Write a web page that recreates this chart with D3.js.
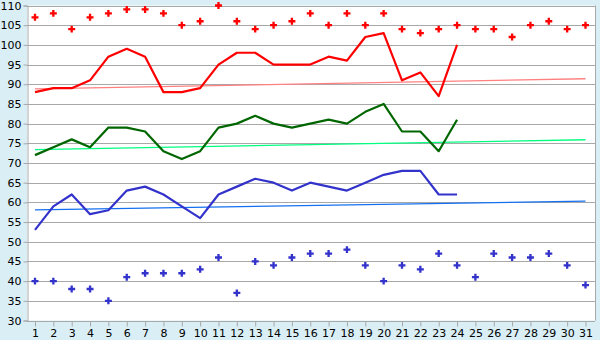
<!DOCTYPE html>
<html>
<head>
<meta charset="utf-8">
<script src="https://cdn.jsdelivr.net/npm/d3@7/dist/d3.min.js"></script>
<style>
html,body{margin:0;padding:0;background:#d9eef5;}
svg{display:block;}
text{font-family:"DejaVu Sans",Verdana,sans-serif;font-size:11px;fill:#000;}
</style>
</head>
<body>
<svg id="chart" width="600" height="340"></svg>
<script>
const days = d3.range(1, 32).map(String);
const yTicks = [30,35,40,45,50,55,60,65,70,75,80,85,90,95,100,105,110];
const redLine = [88,89,89,91,97,99,97,88,88,89,95,98,98,95,95,95,97,96,102,103,91,93,87,100];
const greenLine = [72,74,76,74,79,79,78,73,71,73,79,80,82,80,79,80,81,80,83,85,78,78,73,81];
const blueLine = [53,59,62,57,58,63,64,62,59,56,62,64,66,65,63,65,64,63,65,67,68,68,62,62];
const redMarks = [107,108,104,107,108,109,109,108,105,106,110,106,104,105,106,108,105,108,105,108,104,103,104,105,104,104,102,105,106,104,105];
const blueMarks = [40,40,38,38,35,41,42,42,42,43,46,37,45,44,46,47,47,48,44,40,44,43,47,44,41,47,46,46,47,44,39];
const redTrend = [88.8, 91.4];
const greenTrend = [73.4, 75.9];
const blueTrend = [58.1, 60.3];

const svg = d3.select("#chart");
const W = 600, H = 340;
const mLeft = 27, mRight = 595, mTop = 5.5, mBottom = 320.5;

svg.append("rect").attr("width", W).attr("height", H).attr("fill", "#d9eef5");
svg.append("rect").attr("x", mLeft).attr("y", mTop).attr("width", mRight - mLeft).attr("height", mBottom - mTop).attr("fill", "#fff");

const x = d3.scalePoint().domain(days).range([35, 585.5]);
const y = d3.scaleLinear().domain([30, 110]).range([mBottom, mTop]);

// gridlines
svg.append("g").selectAll("line").data(yTicks).join("line")
  .attr("x1", mLeft).attr("x2", mRight)
  .attr("y1", d => Math.round(y(d)) + 0.5).attr("y2", d => Math.round(y(d)) + 0.5)
  .attr("stroke", "#a8a8a8").attr("stroke-width", 1);

// right border
svg.append("line").attr("x1", mRight + 0.5).attr("x2", mRight + 0.5).attr("y1", mTop).attr("y2", mBottom)
  .attr("stroke", "#a8a8a8");

// y axis
const yAxis = svg.append("g").attr("transform", `translate(${mLeft + 0.5},0)`)
  .call(d3.axisLeft(y).tickValues(yTicks).tickSize(4).tickPadding(2).tickFormat(d3.format("d")));
yAxis.select(".domain").attr("stroke", "#a8a8a8");
yAxis.selectAll(".tick line").attr("stroke", "#a8a8a8");
yAxis.selectAll("text").style("font-size", "11px").style("font-family", "'DejaVu Sans',Verdana,sans-serif");

// x axis
const xAxis = svg.append("g").attr("transform", `translate(0,${Math.round(y(30)) + 0.5})`)
  .call(d3.axisBottom(x).tickSize(5).tickPadding(3));
xAxis.select(".domain").remove();
xAxis.selectAll(".tick line").attr("stroke", "#a8a8a8");
xAxis.selectAll("text").style("font-size", "11px").style("font-family", "'DejaVu Sans',Verdana,sans-serif");

// trend lines
function trend(vals, color) {
  svg.append("line")
    .attr("x1", x(days[0])).attr("x2", x(days[days.length - 1]))
    .attr("y1", y(vals[0])).attr("y2", y(vals[1]))
    .attr("stroke", color).attr("stroke-width", 1.3);
}
trend(redTrend, "#ff8080");
trend(greenTrend, "#00ff80");
trend(blueTrend, "#1470f0");

// series lines
const line = d3.line().x((d, i) => x(days[i])).y(d => y(d));
function drawLine(vals, color) {
  svg.append("path").datum(vals).attr("d", line)
    .attr("fill", "none").attr("stroke", color).attr("stroke-width", 2.2)
    .attr("stroke-linejoin", "round");
}
drawLine(redLine, "#ff0000");
drawLine(greenLine, "#006600");
drawLine(blueLine, "#3333cc");

// markers
const sym = d3.symbol().type(d3.symbolCross).size(27);
function marks(vals, color) {
  svg.append("g").selectAll("path").data(vals).join("path")
    .attr("d", sym)
    .attr("transform", (d, i) => `translate(${x(days[i])},${y(d)})`)
    .attr("fill", color);
}
marks(redMarks, "#ff0000");
marks(blueMarks, "#3333cc");
</script>
</body>
</html>
